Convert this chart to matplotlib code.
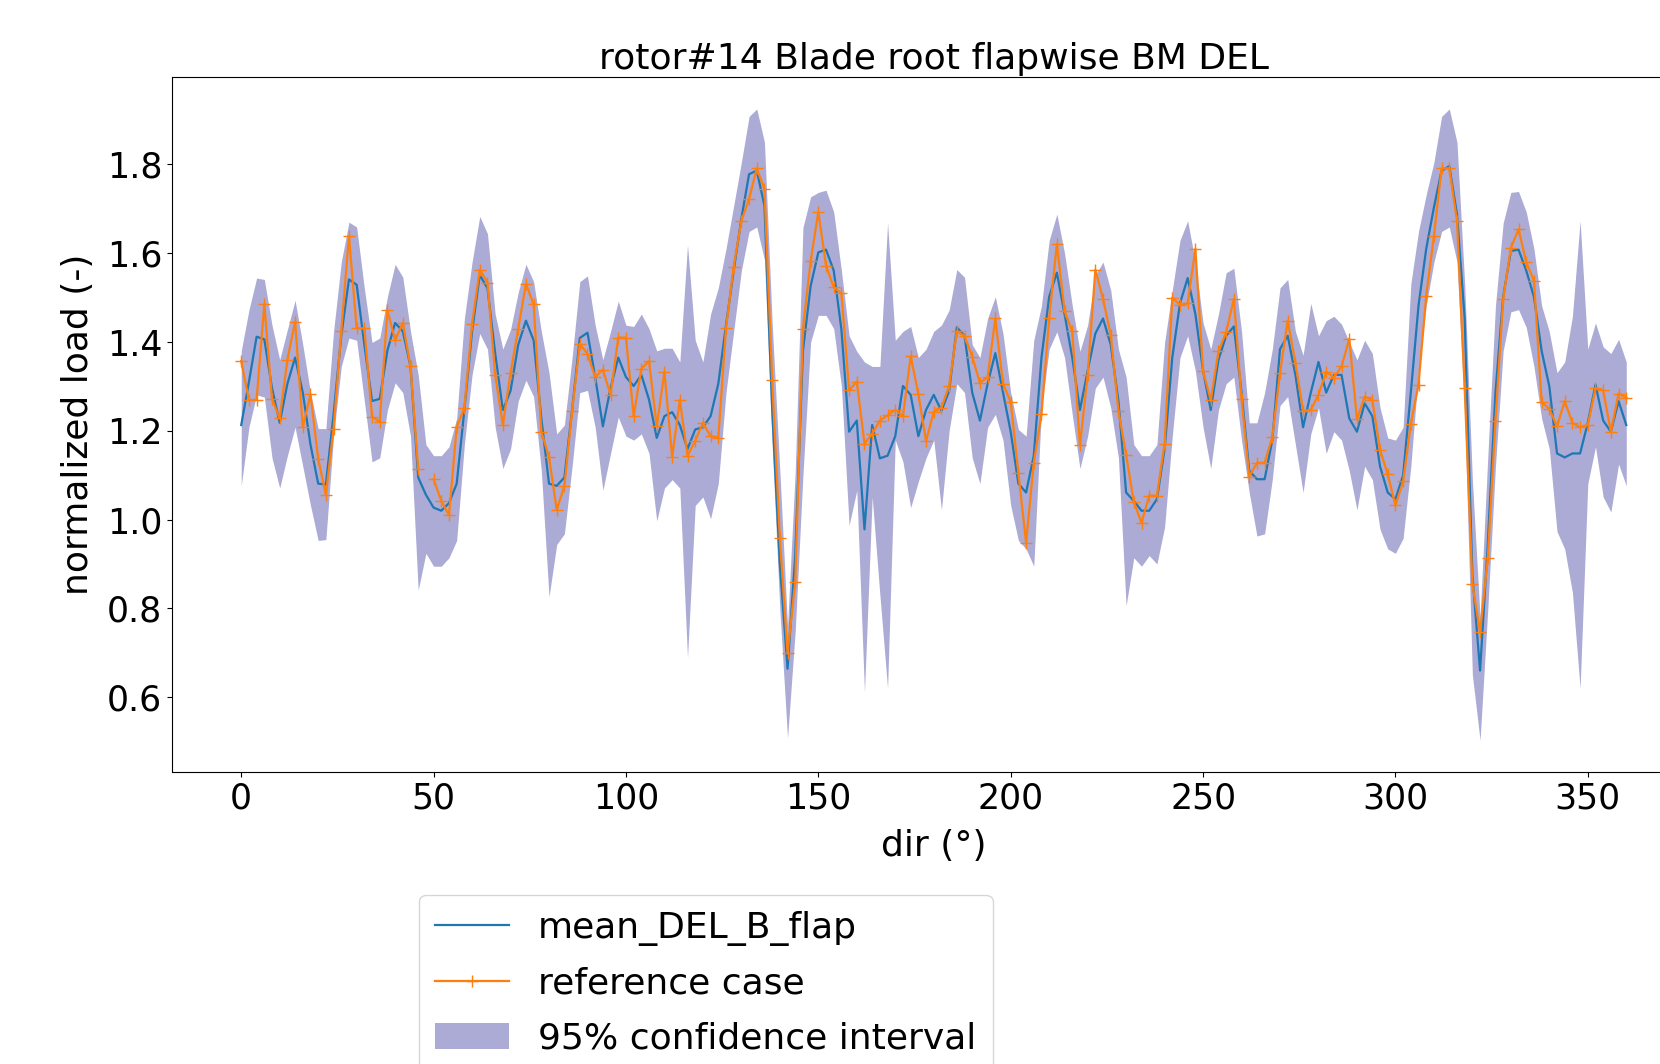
import numpy as np
import matplotlib
matplotlib.use("Agg")
import matplotlib.pyplot as plt

# ---------------- data ----------------
directions = np.arange(0, 361, 2)

mean_del_b_flap = [
    1.213, 1.31, 1.412, 1.406, 1.296, 1.218, 1.306, 1.365, 1.286, 1.169,
    1.081, 1.079, 1.237, 1.414, 1.541, 1.529, 1.394, 1.267, 1.272, 1.381,
    1.443, 1.424, 1.345, 1.095, 1.056, 1.027, 1.02, 1.037, 1.081, 1.247,
    1.424, 1.551, 1.521, 1.375, 1.247, 1.29, 1.394, 1.448, 1.404, 1.228,
    1.081, 1.076, 1.095, 1.247, 1.409, 1.421, 1.321, 1.21, 1.296, 1.365,
    1.321, 1.301, 1.326, 1.27, 1.184, 1.233, 1.242, 1.213, 1.159, 1.203,
    1.208, 1.233, 1.306, 1.438, 1.561, 1.678, 1.778, 1.786, 1.707, 1.25,
    0.90, 0.664, 0.92, 1.38, 1.526, 1.602, 1.608, 1.561, 1.428, 1.198,
    1.223, 0.978, 1.213, 1.138, 1.144, 1.188, 1.301, 1.281, 1.188, 1.247,
    1.281, 1.245, 1.29, 1.433, 1.414, 1.286, 1.223, 1.306, 1.375, 1.286,
    1.198, 1.081, 1.061, 1.144, 1.365, 1.502, 1.556, 1.463, 1.365, 1.247,
    1.335, 1.419, 1.453, 1.394, 1.267, 1.061, 1.042, 1.02, 1.02, 1.046,
    1.159, 1.365, 1.487, 1.544, 1.463, 1.335, 1.247, 1.36, 1.414, 1.435,
    1.286, 1.11, 1.091, 1.091, 1.179, 1.384, 1.414, 1.326, 1.208, 1.286,
    1.355, 1.286, 1.326, 1.326, 1.228, 1.198, 1.262, 1.233, 1.12, 1.061,
    1.046, 1.1, 1.286, 1.482, 1.61, 1.703, 1.786, 1.796, 1.688, 1.453,
    0.875, 0.66, 0.944, 1.286, 1.502, 1.605, 1.608, 1.561, 1.502, 1.38,
    1.30, 1.149, 1.14, 1.149, 1.149, 1.218, 1.304, 1.223, 1.198, 1.267,
    1.213,
]

reference_case = [
    1.357, 1.269, 1.27, 1.485, 1.272, 1.228, 1.36, 1.446, 1.208, 1.282,
    1.137, 1.056, 1.205, 1.424, 1.639, 1.431, 1.431, 1.232, 1.22, 1.472,
    1.404, 1.443, 1.345, 1.113, np.nan, 1.091, 1.042, 1.01, 1.208, 1.252,
    1.44, 1.563, 1.534, 1.326, 1.213, 1.331, 1.43, 1.531, 1.485, 1.198,
    1.141, 1.022, 1.076, 1.245, 1.396, 1.373, 1.321, 1.338, 1.281, 1.41,
    1.41, 1.233, 1.34, 1.357, 1.21, 1.333, 1.141, 1.269, 1.144, 1.177,
    1.218, 1.188, 1.184, 1.431, 1.57, 1.673, 1.722, 1.791, 1.744, 1.314,
    0.958, 0.699, 0.86, 1.43, 1.582, 1.693, 1.572, 1.523, 1.51, 1.291,
    1.311, 1.171, 1.193, 1.223, 1.235, 1.247, 1.233, 1.368, 1.283, 1.177,
    1.242, 1.252, 1.301, 1.424, 1.414, 1.367, 1.308, 1.321, 1.453, 1.306,
    1.265, 1.105, 0.948, 1.128, 1.237, 1.453, 1.621, 1.47, 1.424, 1.167,
    1.326, 1.563, 1.497, 1.416, 1.245, 1.146, 1.04, 0.993, 1.054, 1.054,
    1.171, 1.5, 1.484, 1.487, 1.61, 1.335, 1.269, 1.379, 1.422, 1.497,
    1.272, 1.097, 1.128, 1.128, 1.186, 1.331, 1.448, 1.353, 1.245, 1.247,
    1.281, 1.333, 1.32, 1.345, 1.407, 1.226, 1.277, 1.269, 1.157, 1.102,
    1.032, 1.086, 1.216, 1.304, 1.504, 1.639, 1.791, 1.791, 1.673, 1.296,
    0.855, 0.746, 0.914, 1.223, 1.497, 1.612, 1.654, 1.58, 1.538, 1.265,
    1.249, 1.21, 1.267, 1.218, 1.208, 1.213, 1.296, 1.291, 1.198, 1.284,
    1.275,
]

ci_lower = [
    1.076, 1.208, 1.281, 1.276, 1.139, 1.071, 1.144, 1.208, 1.12, 1.032,
    0.953, 0.955, 1.188, 1.345, 1.409, 1.404, 1.267, 1.13, 1.139, 1.247,
    1.308, 1.286, 1.188, 0.841, 0.924, 0.895, 0.895, 0.914, 0.953, 1.169,
    1.326, 1.419, 1.384, 1.208, 1.115, 1.159, 1.267, 1.314, 1.277, 1.11,
    0.826, 0.944, 0.968, 1.12, 1.286, 1.291, 1.208, 1.066, 1.149, 1.231,
    1.188, 1.179, 1.193, 1.149, 0.997, 1.071, 1.09, 1.071, 0.689, 1.032,
    1.051, 1.002, 1.081, 1.286, 1.424, 1.561, 1.649, 1.659, 1.585, 1.169,
    0.797, 0.508, 0.75, 1.10, 1.40, 1.46, 1.46, 1.43, 1.30, 0.987,
    1.066, 0.611, 1.051, 0.83, 0.62, 1.179, 1.13, 1.027, 1.086, 1.139,
    1.179, 1.022, 1.20, 1.306, 1.286, 1.139, 1.081, 1.208, 1.237, 1.179,
    1.032, 0.953, 0.934, 0.895, 1.25, 1.384, 1.423, 1.365, 1.237, 1.115,
    1.188, 1.296, 1.321, 1.252, 1.139, 0.806, 0.914, 0.895, 0.919, 0.9,
    0.983, 1.188, 1.365, 1.414, 1.335, 1.208, 1.115, 1.247, 1.306, 1.321,
    1.179, 1.061, 0.963, 0.968, 1.091, 1.257, 1.277, 1.169, 1.061, 1.193,
    1.252, 1.149, 1.198, 1.179, 1.11, 1.022, 1.12, 1.09, 0.978, 0.934,
    0.924, 0.958, 1.12, 1.335, 1.482, 1.58, 1.649, 1.659, 1.58, 1.237,
    0.65, 0.503, 0.797, 1.12, 1.38, 1.468, 1.473, 1.433, 1.345, 1.228,
    1.159, 0.973, 0.934, 0.836, 0.62, 1.081, 1.164, 1.051, 1.017, 1.125,
    1.076,
]

ci_upper = [
    1.38, 1.472, 1.544, 1.541, 1.438, 1.36, 1.428, 1.494, 1.394, 1.286,
    1.205, 1.205, 1.424, 1.58, 1.67, 1.659, 1.521, 1.399, 1.409, 1.502,
    1.575, 1.546, 1.424, 1.326, 1.169, 1.144, 1.144, 1.164, 1.228, 1.453,
    1.58, 1.683, 1.644, 1.463, 1.384, 1.428, 1.512, 1.575, 1.536, 1.424,
    1.331, 1.193, 1.213, 1.365, 1.536, 1.549, 1.438, 1.36, 1.424, 1.492,
    1.438, 1.435, 1.463, 1.43, 1.38, 1.386, 1.386, 1.355, 1.619, 1.404,
    1.355, 1.463, 1.522, 1.61, 1.707, 1.805, 1.908, 1.925, 1.85, 1.443,
    1.11, 0.76, 1.11, 1.658, 1.727, 1.737, 1.742, 1.693, 1.561, 1.414,
    1.379, 1.355, 1.345, 1.345, 1.668, 1.404, 1.424, 1.435, 1.365, 1.384,
    1.424, 1.438, 1.472, 1.563, 1.546, 1.394, 1.365, 1.453, 1.502, 1.419,
    1.286, 1.203, 1.188, 1.404, 1.482, 1.629, 1.688, 1.6, 1.482, 1.379,
    1.438, 1.551, 1.58, 1.517, 1.384, 1.321, 1.169, 1.144, 1.144, 1.169,
    1.399, 1.517, 1.629, 1.673, 1.58, 1.443, 1.384, 1.463, 1.556, 1.566,
    1.424, 1.218, 1.218, 1.286, 1.384, 1.522, 1.541, 1.424, 1.37, 1.487,
    1.414, 1.448, 1.458, 1.44, 1.40, 1.36, 1.404, 1.374, 1.252, 1.184,
    1.179, 1.208, 1.531, 1.649, 1.732, 1.805, 1.908, 1.925, 1.85, 1.531,
    1.09, 0.78, 1.14, 1.482, 1.668, 1.737, 1.739, 1.693, 1.61, 1.482,
    1.423, 1.331, 1.355, 1.458, 1.673, 1.384, 1.443, 1.389, 1.374, 1.406,
    1.355,
]

# ---------------- figure ----------------
fig = plt.figure(figsize=(16.6, 10.64), dpi=100)
# axes extends slightly past the right edge of the canvas (as in the reference)
ax = fig.add_axes([0.1036, 0.2746, 1.0214 - 0.1036, 0.9273 - 0.2746])

band = ax.fill_between(directions, ci_lower, ci_upper, color="navy",
                       alpha=0.33, linewidth=0, label="95% confidence interval")
l_mean, = ax.plot(directions, mean_del_b_flap, color="tab:blue", lw=1.6,
                  label="mean_DEL_B_flap")
l_ref, = ax.plot(directions, reference_case, color="tab:orange", lw=1.6,
                 marker="+", markersize=8, label="reference case")

ax.set_title("rotor#14 Blade root flapwise BM DEL", fontsize=26)
ax.set_xlabel("dir (°)", fontsize=26, labelpad=9.5)
ax.set_ylabel("normalized load (-)", fontsize=26, labelpad=8.5)
ax.tick_params(axis="both", labelsize=25)
ax.set_xticks([0, 50, 100, 150, 200, 250, 300, 350])
ax.set_yticks([0.6, 0.8, 1.0, 1.2, 1.4, 1.6, 1.8])

fig.legend(handles=[l_mean, l_ref, band], loc="upper left",
           bbox_to_anchor=(0.2524, 0.1592), bbox_transform=fig.transFigure,
           borderaxespad=0, fontsize=26, handlelength=2.05,
           labelspacing=0.58, borderpad=0.45)

fig.savefig("out.png", dpi=100)
